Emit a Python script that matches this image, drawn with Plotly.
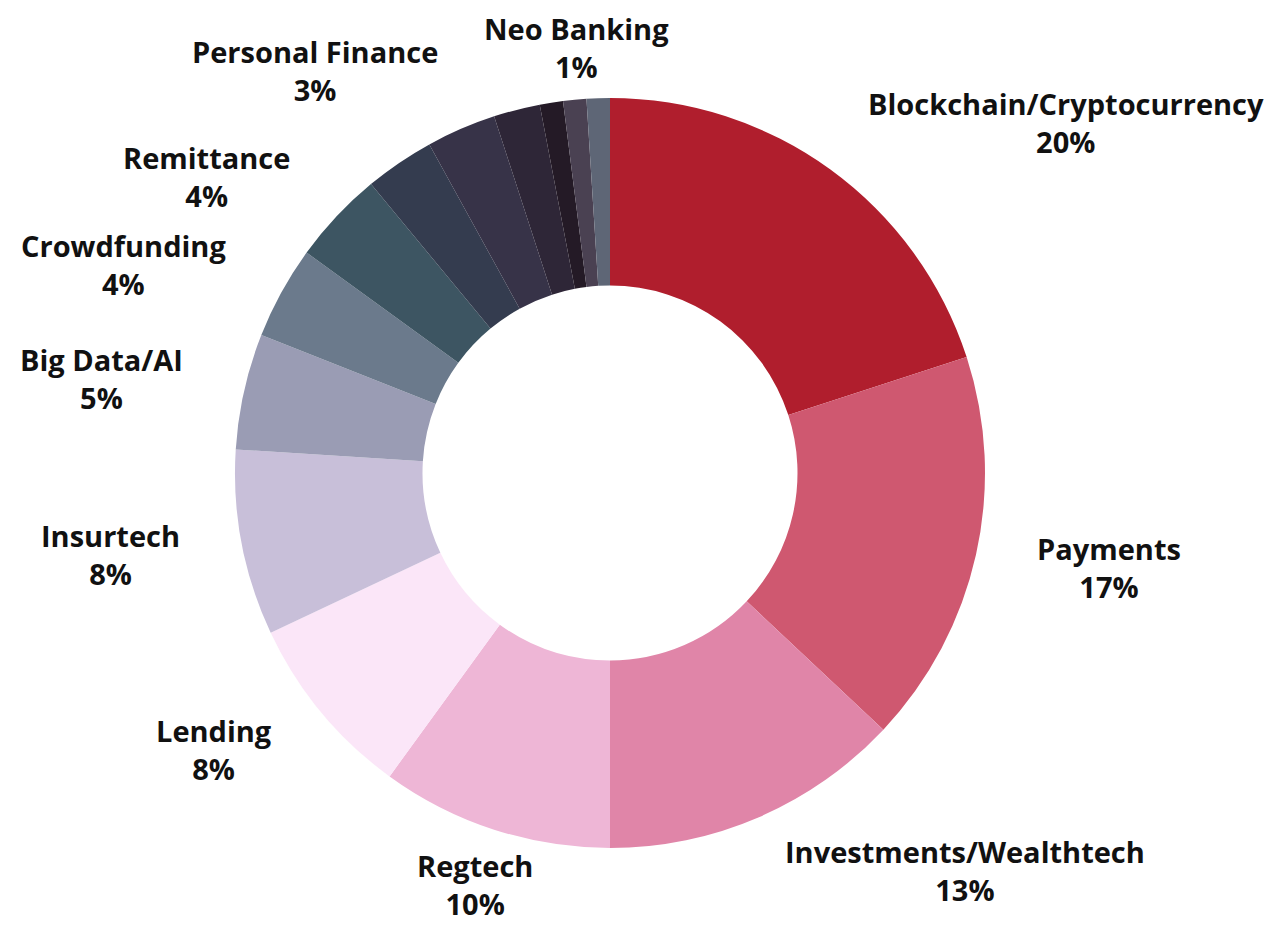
import math
import plotly.graph_objects as go

# fintech segments, clockwise from 12 o'clock
segments = ['Blockchain/Cryptocurrency', 'Payments', 'Investments/Wealthtech', 'Regtech',
            'Lending', 'Insurtech', 'Big Data/AI', 'Crowdfunding', 'Remittance',
            'Personal Finance', 'Other A', 'Other B', 'Other C', 'Neo Banking', 'Other D']
shares = [20, 17, 13, 10, 8, 8, 5, 4, 4, 3, 3, 2, 1, 1, 1]
show_label = [True] * 10 + [False, False, False, True, False]
colors = ['#b01e2d', '#cf5870', '#e085a8', '#eeb6d6', '#fbe6f8', '#c8bfd9', '#9a9cb4',
          '#6b7a8c', '#3d5562', '#343c4f', '#373348', '#2e2637', '#241a26', '#4a4152', '#5e6676']

W, H = 1278, 925
cx, cy, r = 602, 465, 375   # pie centre / radius in px (page adds 8px body margin)
lab_rx, lab_ry = 436, 393   # ellipse the outside labels hang on
half_h = 40                 # about half the height of a two-line label
# small shifts so Personal Finance clears Remittance and Neo Banking stays on the page
label_nudge = {'Personal Finance': (75, -44), 'Neo Banking': (8, 6)}

fig = go.Figure()

fig.add_trace(go.Pie(
    labels=segments, values=shares, sort=False, direction='clockwise', rotation=0,
    hole=0.5, marker=dict(colors=colors, line=dict(width=0)),
    textinfo='none', showlegend=False, hoverinfo='label+percent',
    domain=dict(x=[(cx - r) / W, (cx + r) / W], y=[(H - cy - r) / H, (H - cy + r) / H])
))

# outside labels, placed at each slice's mid angle
total = sum(shares)
cum = 0
for seg, val, show in zip(segments, shares, show_label):
    theta = 2 * math.pi * (cum + val / 2) / total
    cum += val
    if not show:
        continue
    s, c = math.sin(theta), math.cos(theta)
    px = cx + lab_rx * s
    py = cy - lab_ry * c - half_h * c
    dx, dy = label_nudge.get(seg, (0, 0))
    px, py = px + dx, py + dy
    xanchor = 'center' if abs(s) < 0.35 else ('left' if s > 0 else 'right')
    fig.add_annotation(
        x=px / W, y=1 - py / H, xref='paper', yref='paper',
        text=f'{seg}<br>{val}%', showarrow=False, align='center',
        xanchor=xanchor, yanchor='middle',
        font=dict(family='Open Sans', size=29, color='#111111', weight='bold')
    )

fig.update_layout(
    width=W, height=H, margin=dict(l=0, r=0, t=0, b=0),
    paper_bgcolor='white', plot_bgcolor='white',
    font=dict(family='Open Sans')
)

fig.write_html('out.html')
